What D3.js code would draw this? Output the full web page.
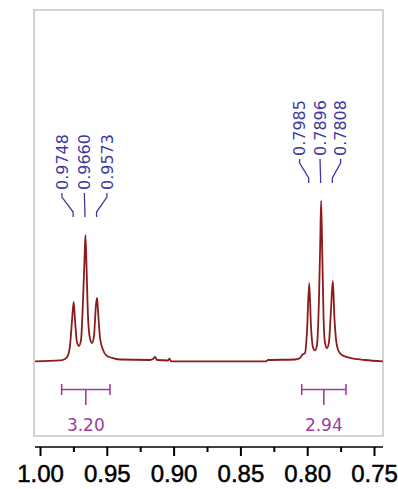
<!DOCTYPE html>
<html>
<head>
<meta charset="utf-8">
<script src="https://cdn.jsdelivr.net/npm/d3@7"></script>
<style>
  html, body { margin: 0; padding: 0; background: #fff; }
  svg { display: block; }
</style>
</head>
<body>
<svg id="chart" width="398" height="489"></svg>
<script>
// ---- Data ----
const spectrumPpm = [
  1.0037, 0.9850, 0.9813, 0.9790, 0.9775, 0.9760, 0.9748, 0.9738, 0.9723, 0.9708,
  0.9693, 0.9678, 0.9667, 0.9660, 0.9652, 0.9641, 0.9626, 0.9611, 0.9596, 0.9581,
  0.9573, 0.9566, 0.9551, 0.9528, 0.9506, 0.9461, 0.9401, 0.9177, 0.9154, 0.9139,
  0.9124, 0.9042, 0.9031, 0.9019, 0.8308, 0.8293, 0.8091, 0.8054, 0.8039, 0.8016,
  0.8001, 0.7985, 0.7972, 0.7957, 0.7942, 0.7927, 0.7912, 0.7902, 0.7896, 0.7889,
  0.7878, 0.7867, 0.7852, 0.7837, 0.7822, 0.7808, 0.7796, 0.7784, 0.7769, 0.7740,
  0.7680, 0.7567, 0.7433
];
const spectrumIntensity = [
  -0.9, -0.3, 0.6, 3.1, 9.4, 25.2, 36.5, 25.2, 11.0, 8.8,
  12.6, 37.7, 62.9, 78.6, 59.7, 28.0, 13.5, 10.7, 15.0, 34.6,
  39.0, 31.4, 14.0, 6.3, 3.1, 1.3, 0.3, 0.0, 0.6, 1.9,
  0.0, -0.3, 0.9, -0.9, -0.9, 0.0, 0.3, 1.3, 3.1, 4.4,
  18.9, 48.4, 22.0, 8.0, 6.0, 9.4, 37.7, 75.5, 100.0, 75.5,
  28.0, 11.0, 7.5, 11.3, 31.4, 49.7, 26.0, 12.6, 6.3, 3.1,
  1.3, 0.0, -0.9
];
const multipletA = [0.9748, 0.9660, 0.9573];
const multipletB = [0.7985, 0.7896, 0.7808];
const integralFrom = [0.9838, 0.8041];
const integralTo = [0.9476, 0.7710];
const integralLabels = ["3.20", "2.94"];
const majorTicks = [1.00, 0.95, 0.90, 0.85, 0.80, 0.75];
const minorTicks = [0.975, 0.925, 0.875, 0.825, 0.775];

// ---- Layout / style ----
const frame = { x0: 34, y0: 10, x1: 383, y1: 436 };
const axisY = 447;
const specColor = "#8c1c1c";
const labelColor = "#3b3b9e";
const integColor = "#a03ca0";

const svg = d3.select("#chart");
const x = d3.scaleLinear().domain([1.00, 0.75]).range([40, 374]);
const y = d3.scaleLinear().domain([0, 100]).range([360, 201]);

// frame
svg.append("rect")
  .attr("x", frame.x0).attr("y", frame.y0)
  .attr("width", frame.x1 - frame.x0).attr("height", frame.y1 - frame.y0)
  .attr("fill", "none").attr("stroke", "#c8c8c8").attr("stroke-width", 1.6);

// spectrum
const pts = spectrumPpm.map((p, i) => [p, spectrumIntensity[i]]);
const specLine = d3.line().x(d => x(d[0])).y(d => y(d[1])).curve(d3.curveMonotoneX);
svg.append("path")
  .datum(pts)
  .attr("fill", "none")
  .attr("stroke", specColor)
  .attr("stroke-width", 1.8)
  .attr("stroke-linejoin", "round")
  .attr("d", specLine);

// peak labels
function drawMultiplet(peaks, spacing) {
  const maxI = d3.max(peaks, p => spectrumIntensity[spectrumPpm.indexOf(p)]);
  const endY = y(maxI) - 18;
  const topY = endY - 24;
  const mid = x(peaks[1]) - 1;
  peaks.forEach((p, i) => {
    const lx = mid + (i - 1) * spacing;
    const px = x(p) - 0.5;
    svg.append("path")
      .attr("fill", "none").attr("stroke", labelColor).attr("stroke-width", 1.3)
      .attr("d", d3.line()([[lx, topY], [lx, topY + 4], [px, topY + 19], [px, endY]]));
    svg.append("text")
      .attr("transform", `translate(${lx},${topY - 3}) rotate(-90)`)
      .attr("dy", "0.36em")
      .attr("text-anchor", "start")
      .attr("font-family", "DejaVu Sans")
      .attr("font-size", 16)
      .attr("fill", labelColor)
      .text(d3.format(".4f")(p));
  });
}
drawMultiplet(multipletA, 22.5);
drawMultiplet(multipletB, 20.5);

// integrals
integralFrom.forEach((f, i) => {
  const a = x(f), b = x(integralTo[i]), c = (a + b) / 2;
  const g = svg.append("g").attr("stroke", integColor).attr("stroke-width", 1.6).attr("fill", "none");
  g.append("line").attr("x1", a).attr("x2", b).attr("y1", 389.5).attr("y2", 389.5);
  g.append("line").attr("x1", a).attr("x2", a).attr("y1", 384).attr("y2", 395);
  g.append("line").attr("x1", b).attr("x2", b).attr("y1", 384).attr("y2", 395);
  g.append("line").attr("x1", c).attr("x2", c).attr("y1", 389.5).attr("y2", 405);
  svg.append("text")
    .attr("x", c).attr("y", 431)
    .attr("text-anchor", "middle")
    .attr("font-family", "DejaVu Sans")
    .attr("font-size", 17)
    .attr("fill", integColor)
    .text(integralLabels[i]);
});

// axis
const axisG = svg.append("g").attr("transform", `translate(0,${axisY})`);
axisG.append("line").attr("x1", 35).attr("x2", 383).attr("y1", 0).attr("y2", 0)
  .attr("stroke", "#000").attr("stroke-width", 1.5);
const major = axisG.append("g").call(
  d3.axisBottom(x).tickValues(majorTicks).tickSize(9).tickPadding(9).tickFormat(d3.format(".2f"))
);
major.select(".domain").remove();
major.selectAll(".tick line").attr("stroke-width", 2);
major.selectAll(".tick text")
  .attr("font-family", "Liberation Sans")
  .attr("font-size", 24)
  .attr("fill", "#000")
  .attr("stroke", "#000")
  .attr("stroke-width", 0.5);
const minor = axisG.append("g").call(
  d3.axisBottom(x).tickValues(minorTicks).tickSize(5).tickFormat("")
);
minor.select(".domain").remove();
minor.selectAll(".tick line").attr("stroke-width", 2);
</script>
</body>
</html>
